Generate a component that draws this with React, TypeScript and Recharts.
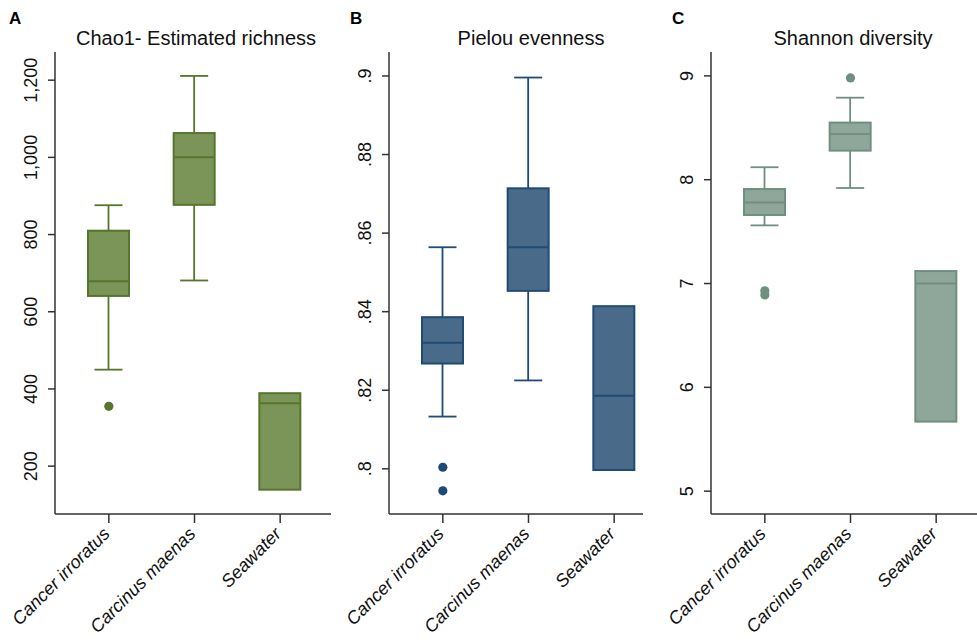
import React from 'react';
import { ComposedChart, Bar, Scatter, XAxis, YAxis } from 'recharts';

const groups = ['Cancer irroratus', 'Carcinus maenas', 'Seawater'];

// A - Chao1 estimated richness (whisker low, q1, median, q3, whisker high)
const chaoMin = [450, 681, 139];
const chaoQ1 = [641, 877, 139];
const chaoMed = [679, 1000, 363];
const chaoQ3 = [810, 1063, 389];
const chaoMax = [876, 1211, 389];
const chaoOutGroups = ['Cancer irroratus'];
const chaoOutValues = [355];
const chaoTicks = [200, 400, 600, 800, 1000, 1200];

// B - Pielou evenness
const pielouMin = [0.8133, 0.8225, 0.7997];
const pielouQ1 = [0.8268, 0.8453, 0.7997];
const pielouMed = [0.8321, 0.8564, 0.8186];
const pielouQ3 = [0.8386, 0.8714, 0.8414];
const pielouMax = [0.8564, 0.8996, 0.8414];
const pielouOutGroups = ['Cancer irroratus', 'Cancer irroratus'];
const pielouOutValues = [0.8004, 0.7944];
const pielouTicks = [0.8, 0.82, 0.84, 0.86, 0.88, 0.9];

// C - Shannon diversity
const shannonMin = [7.56, 7.92, 5.67];
const shannonQ1 = [7.66, 8.28, 5.67];
const shannonMed = [7.78, 8.44, 7.0];
const shannonQ3 = [7.91, 8.55, 7.12];
const shannonMax = [8.12, 8.79, 7.12];
const shannonOutGroups = ['Cancer irroratus', 'Cancer irroratus', 'Carcinus maenas'];
const shannonOutValues = [6.89, 6.93, 8.98];
const shannonTicks = [5, 6, 7, 8, 9];

const FONT = '"Liberation Sans", Arial, Helvetica, sans-serif';
const AXIS = '#333333';

type Row = { group: string; min: number; q1: number; med: number; q3: number; max: number };

const makeRows = (mn: number[], q1: number[], md: number[], q3: number[], mx: number[]): Row[] =>
  groups.map((g, i) => ({ group: g, min: mn[i], q1: q1[i], med: md[i], q3: q3[i], max: mx[i] }));

const makeOutliers = (gs: string[], vs: number[]) => gs.map((g, i) => ({ group: g, value: vs[i] }));

function BoxShape(props: any) {
  const { x, y, width, height, payload, boxFill, boxStroke } = props;
  const top = Math.min(y, y + height);
  const h = Math.abs(height);
  const span = payload.max - payload.min;
  const py = (v: number) => (span === 0 ? top : top + ((payload.max - v) / span) * h);
  const cx = x + width / 2;
  const cap = 14;
  const yQ1 = py(payload.q1);
  const yQ3 = py(payload.q3);
  const yMed = py(payload.med);
  const yMin = py(payload.min);
  const yMax = py(payload.max);
  return (
    <g>
      {payload.max > payload.q3 && (
        <g stroke={boxStroke} strokeWidth={1.8}>
          <line x1={cx} x2={cx} y1={yMax} y2={yQ3} />
          <line x1={cx - cap} x2={cx + cap} y1={yMax} y2={yMax} />
        </g>
      )}
      {payload.min < payload.q1 && (
        <g stroke={boxStroke} strokeWidth={1.8}>
          <line x1={cx} x2={cx} y1={yQ1} y2={yMin} />
          <line x1={cx - cap} x2={cx + cap} y1={yMin} y2={yMin} />
        </g>
      )}
      <rect x={x} y={yQ3} width={width} height={yQ1 - yQ3} fill={boxFill} stroke={boxStroke} strokeWidth={2} />
      <line x1={x} x2={x + width} y1={yMed} y2={yMed} stroke={boxStroke} strokeWidth={2} />
    </g>
  );
}

function XTick(props: any) {
  const { x, y, payload } = props;
  const tx = x + 2;
  const ty = y + 12;
  return (
    <text x={tx} y={ty} transform={`rotate(-45, ${tx}, ${ty})`} textAnchor="end" fontSize={18} fontStyle="italic" fill="#111">
      {payload.value}
    </text>
  );
}

function makeYTick(fmt: (v: number) => string) {
  return function YTick(props: any) {
    const { x, y, payload } = props;
    return (
      <text x={x} y={y} transform={`rotate(-90, ${x}, ${y})`} textAnchor="middle" fontSize={18} fill="#111">
        {fmt(payload.value)}
      </text>
    );
  };
}

interface PanelProps {
  left: number;
  width: number;
  yWidth: number;
  padRight: number;
  rows: Row[];
  outliers: { group: string; value: number }[];
  domain: [number, number];
  ticks: number[];
  fmt: (v: number) => string;
  fill: string;
  stroke: string;
  dot: string;
}

function Panel({ left, width, yWidth, padRight, rows, outliers, domain, ticks, fmt, fill, stroke, dot }: PanelProps) {
  return (
    <div style={{ position: 'absolute', left, top: 0 }}>
      <ComposedChart width={width} height={643} data={rows} margin={{ top: 52, right: 0, bottom: 0, left: 0 }} style={{ fontFamily: FONT }}>
        <XAxis
          dataKey="group"
          type="category"
          allowDuplicatedCategory={false}
          height={129}
          padding={{ left: 11, right: padRight }}
          interval={0}
          tickSize={9}
          tickMargin={0}
          axisLine={{ stroke: AXIS, strokeWidth: 1.5 }}
          tickLine={{ stroke: AXIS, strokeWidth: 1.5 }}
          tick={<XTick />}
        />
        <YAxis
          type="number"
          width={yWidth}
          domain={domain}
          ticks={ticks}
          allowDataOverflow
          tickSize={7}
          tickMargin={11}
          axisLine={{ stroke: AXIS, strokeWidth: 1.5 }}
          tickLine={{ stroke: AXIS, strokeWidth: 1.5 }}
          tick={React.createElement(makeYTick(fmt))}
        />
        <Bar
          dataKey={(d: Row) => [d.min, d.max]}
          barSize={41}
          isAnimationActive={false}
          shape={(p: any) => <BoxShape {...p} boxFill={fill} boxStroke={stroke} />}
        />
        <Scatter
          data={outliers}
          dataKey="value"
          isAnimationActive={false}
          shape={(p: any) => <circle cx={p.cx} cy={p.cy} r={4.6} fill={dot} />}
        />
      </ComposedChart>
    </div>
  );
}

const fmtComma = (v: number) => v.toLocaleString('en-US');
const fmtDot = (v: number) => String(Number(v.toFixed(2))).replace(/^0/, '');
const fmtInt = (v: number) => String(v);

export default function App() {
  const chaoRows = makeRows(chaoMin, chaoQ1, chaoMed, chaoQ3, chaoMax);
  const pielouRows = makeRows(pielouMin, pielouQ1, pielouMed, pielouQ3, pielouMax);
  const shannonRows = makeRows(shannonMin, shannonQ1, shannonMed, shannonQ3, shannonMax);

  return (
    <div style={{ position: 'absolute', left: 0, top: 0, width: 977, height: 643, background: '#fff', overflow: 'hidden' }}>
      <Panel
        left={0}
        width={331}
        yWidth={55}
        padRight={8}
        rows={chaoRows}
        outliers={makeOutliers(chaoOutGroups, chaoOutValues)}
        domain={[76, 1273]}
        ticks={chaoTicks}
        fmt={fmtComma}
        fill="#7b9458"
        stroke="#56762e"
        dot="#56762e"
      />
      <Panel
        left={331}
        width={312}
        yWidth={58}
        padRight={-14}
        rows={pielouRows}
        outliers={makeOutliers(pielouOutGroups, pielouOutValues)}
        domain={[0.7885, 0.9061]}
        ticks={pielouTicks}
        fmt={fmtDot}
        fill="#4a6a8a"
        stroke="#1f4b74"
        dot="#1e4a75"
      />
      <Panel
        left={643}
        width={334}
        yWidth={68}
        padRight={-2}
        rows={shannonRows}
        outliers={makeOutliers(shannonOutGroups, shannonOutValues)}
        domain={[4.78, 9.23]}
        ticks={shannonTicks}
        fmt={fmtInt}
        fill="#8ea79a"
        stroke="#6f8f80"
        dot="#6f8f81"
      />
      <svg width={977} height={643} style={{ position: 'absolute', left: 0, top: 0, pointerEvents: 'none', fontFamily: FONT }}>
        <text x={9} y={24} fontSize={17} fontWeight="bold" fill="#000">A</text>
        <text x={350} y={24} fontSize={17} fontWeight="bold" fill="#000">B</text>
        <text x={672} y={24} fontSize={17} fontWeight="bold" fill="#000">C</text>
        <text x={196} y={45} fontSize={20} textAnchor="middle" fill="#111">Chao1- Estimated richness</text>
        <text x={531} y={45} fontSize={20} textAnchor="middle" fill="#111">Pielou evenness</text>
        <text x={853} y={45} fontSize={20} textAnchor="middle" fill="#111">Shannon diversity</text>
      </svg>
    </div>
  );
}
